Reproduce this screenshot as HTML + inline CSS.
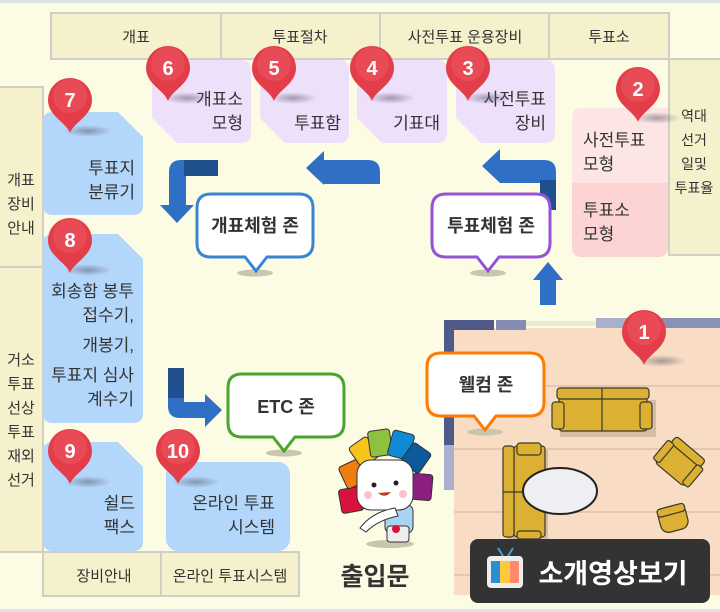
<!DOCTYPE html>
<html><head><meta charset="utf-8"><style>
html,body{margin:0;padding:0;background:#fcfbe4;}
svg{display:block}
text{font-family:"Liberation Sans","Noto Sans CJK KR",sans-serif;fill:#333}
</style></head><body>
<svg width="720" height="612" viewBox="0 0 720 612" xmlns="http://www.w3.org/2000/svg">
<defs>
<g id="pin"><path d="M0,33 C-4,22 -22,16 -22,0 A22,22 0 1 1 22,0 C22,16 4,22 0,33 Z" fill="#e23d48"/><circle cx="0" cy="-4" r="17" fill="#ef5a63" opacity="0.5"/></g>
<radialGradient id="sh"><stop offset="0" stop-color="#556" stop-opacity="0.5"/><stop offset="1" stop-color="#556" stop-opacity="0"/></radialGradient>
</defs>
<rect width="720" height="612" fill="#fcfbe4"/>
<rect x="0" y="0" width="720" height="3" fill="#dde2e6"/>
<rect x="0" y="609" width="720" height="3" fill="#dde2e6"/>
<!-- header -->
<g fill="#f5f1cd" stroke="#cfcfc8" stroke-width="2">
<rect x="51" y="13" width="170" height="46"/><rect x="221" y="13" width="159" height="46"/><rect x="380" y="13" width="169" height="46"/><rect x="549" y="13" width="120" height="46"/>
<rect x="669" y="59" width="52" height="196"/>
<rect x="-1" y="87" width="44" height="180"/><rect x="-1" y="267" width="44" height="285"/>
<rect x="43" y="552" width="118" height="44"/><rect x="161" y="552" width="138" height="44"/>
</g>
<g font-size="15" text-anchor="middle">
<text x="136" y="42">개표</text><text x="300" y="42">투표절차</text><text x="465" y="42">사전투표 운용장비</text><text x="609" y="42">투표소</text>
<text x="104" y="581">장비안내</text><text x="230" y="581">온라인 투표시스템</text>
</g>
<g font-size="14" text-anchor="middle">
<text x="694" y="121">역대</text><text x="694" y="145">선거</text><text x="694" y="169">일및</text><text x="694" y="193">투표율</text>
</g>
<g font-size="15" text-anchor="middle">
<text x="21" y="185">개표</text><text x="21" y="209">장비</text><text x="21" y="233">안내</text>
<text x="21" y="365">거소</text><text x="21" y="389">투표</text><text x="21" y="413">선상</text><text x="21" y="437">투표</text><text x="21" y="461">재외</text><text x="21" y="485">선거</text>
</g>
<!-- purple boxes -->
<g fill="#eee0fb">
<path d="M152,60 H241 Q251,60 251,70 V133 Q251,143 241,143 H177 L152,118 Z"/>
<path d="M260,60 H339 Q349,60 349,70 V133 Q349,143 339,143 H285 L260,118 Z"/>
<path d="M357,60 H437 Q447,60 447,70 V133 Q447,143 437,143 H382 L357,118 Z"/>
<path d="M456,60 H545 Q555,60 555,70 V133 Q555,143 545,143 H481 L456,118 Z"/>
</g>
<!-- pink -->
<path d="M582,108 H668 V183 H572 V118 Q572,108 582,108Z" fill="#fde5e5"/>
<path d="M572,183 H668 V247 Q668,257 658,257 H582 Q572,257 572,247Z" fill="#fdd4d4"/>
<!-- blue boxes -->
<g fill="#b3d7fb">
<path d="M53,112 H118 L143,137 V205 Q143,215 133,215 H53 Q43,215 43,205 V122 Q43,112 53,112Z"/>
<path d="M53,234 H118 L143,259 V413 Q143,423 133,423 H53 Q43,423 43,413 V244 Q43,234 53,234Z"/>
<path d="M53,442 H118 L143,467 V541 Q143,551 133,551 H53 Q43,551 43,541 V452 Q43,442 53,442Z"/>
<rect x="166" y="462" width="124" height="89" rx="12"/>
</g>
<g font-size="17" text-anchor="end">
<text x="243" y="105">개표소</text><text x="243" y="129">모형</text>
<text x="341" y="129">투표함</text>
<text x="440" y="129">기표대</text>
<text x="546" y="105">사전투표</text><text x="546" y="129">장비</text>
<text x="135" y="174">투표지</text><text x="135" y="198">분류기</text>
<text x="134" y="297">회송함 봉투</text><text x="134" y="321">접수기,</text><text x="134" y="351">개봉기,</text><text x="134" y="381">투표지 심사</text><text x="134" y="405">계수기</text>
<text x="135" y="509">쉴드</text><text x="135" y="533">팩스</text>
<text x="275" y="509">온라인 투표</text><text x="275" y="533">시스템</text>
</g>
<g font-size="17"><text x="583" y="146">사전투표</text><text x="583" y="170">모형</text><text x="583" y="216">투표소</text><text x="583" y="240">모형</text></g>
<!-- arrows -->
<g fill="#2f70c6">
<path d="M218,160 V176 H186 V205 H194 L177,223 L160,205 H169 V172 Q169,160 181,160Z"/>
<path d="M380,172 V184 H324 V185 L306,168 L324,151 V160 H368 Q380,160 380,172Z"/>
<path d="M556,172 V210 H540 V183 H500 L482,166 L500,149 V160 H544 Q556,160 556,172Z"/>
<path d="M540,305 V280 H533 L548,262 L563,280 H556 V305Z"/>
<path d="M168,368 H184 V402 H205 V394 L222,410 L205,427 V418 H180 Q168,418 168,406Z"/>
</g>
<g fill="#1f4f8c">
<rect x="184" y="160" width="34" height="16"/><rect x="540" y="180" width="16" height="30"/><rect x="168" y="368" width="16" height="30"/>
</g>
<!-- welcome zone -->
<rect x="454" y="328" width="266" height="267" fill="#f8dcc4"/>
<g stroke="#e8c6ad" stroke-width="2"><line x1="454" y1="386" x2="720" y2="386"/><line x1="454" y1="449" x2="720" y2="449"/><line x1="454" y1="512" x2="720" y2="512"/><line x1="454" y1="575" x2="720" y2="575"/></g>
<rect x="444" y="320" width="50" height="10" fill="#4f5a8b"/>
<rect x="444" y="320" width="10" height="125" fill="#4f5a8b"/>
<rect x="444" y="445" width="10" height="45" fill="#aab0cc"/>
<rect x="496" y="320" width="30" height="10" fill="#858cb3"/>
<rect x="526" y="321" width="70" height="5" fill="#ecebd0"/>
<rect x="596" y="318" width="124" height="10" fill="#8a91b6"/>
<rect x="596" y="318" width="30" height="10" fill="#aab0cc"/>
<!-- furniture -->
<rect x="560" y="400" width="96" height="37" fill="#d6bca6"/>
<rect x="508" y="450" width="40" height="92" fill="#d6bca6"/>
<g fill="#dbb033" stroke="#3a3a2a" stroke-width="1.2">
<rect x="559" y="395" width="88" height="36" rx="3"/>
<rect x="557" y="388" width="92" height="11" rx="3"/>
<line x1="602" y1="388" x2="602" y2="431"/>
<rect x="552" y="402" width="12" height="27" rx="3"/><rect x="640" y="402" width="12" height="27" rx="3"/>
<rect x="514" y="446" width="31" height="91" rx="3"/>
<rect x="503" y="446" width="11" height="91" rx="3"/>
<line x1="503" y1="492" x2="545" y2="492"/>
<rect x="517" y="443" width="24" height="12" rx="3"/>
<rect x="517" y="531" width="24" height="8" rx="3"/>
<ellipse cx="560" cy="491" rx="37" ry="23" fill="#eeeff2" stroke="#222" stroke-width="2"/>
<g transform="rotate(40 680 460)"><rect x="662" y="444" width="38" height="34" rx="4"/><rect x="662" y="444" width="38" height="9" rx="3"/><rect x="658" y="452" width="8" height="24" rx="2"/><rect x="696" y="452" width="8" height="24" rx="2"/></g>
<g transform="rotate(-15 673 518)"><rect x="659" y="506" width="28" height="25" rx="8"/><rect x="659" y="506" width="28" height="8" rx="3"/></g>
</g>
<!-- callouts -->
<g stroke-width="3" fill="#fff">
<ellipse cx="255" cy="273" rx="18" ry="3.5" fill="#c9c6ad" stroke="none"/>
<path d="M211,194 H299 Q313,194 313,208 V243 Q313,257 299,257 H267 L256,271 L245,257 H211 Q197,257 197,243 V208 Q197,194 211,194Z" stroke="#3a85d3"/>
<ellipse cx="488" cy="273" rx="18" ry="3.5" fill="#c9c6ad" stroke="none"/>
<path d="M446,194 H536 Q550,194 550,208 V243 Q550,257 536,257 H499 L488,271 L477,257 H446 Q432,257 432,243 V208 Q432,194 446,194Z" stroke="#9653d6"/>
<ellipse cx="284" cy="453" rx="18" ry="3.5" fill="#c9c6ad" stroke="none"/>
<path d="M242,374 H330 Q344,374 344,388 V423 Q344,437 330,437 H295 L284,451 L273,437 H242 Q228,437 228,423 V388 Q228,374 242,374Z" stroke="#4aa52c"/>
<ellipse cx="485" cy="432" rx="18" ry="3.5" fill="#c9c6ad" stroke="none"/>
<path d="M441,353 H530 Q544,353 544,367 V402 Q544,416 530,416 H496 L485,430 L474,416 H441 Q427,416 427,402 V367 Q427,353 441,353Z" stroke="#ff7a00"/>
</g>
<g font-size="18" font-weight="bold" text-anchor="middle">
<text x="255" y="232" fill="#222">개표체험 존</text><text x="491" y="232" fill="#222">투표체험 존</text>
<text x="286" y="413" fill="#222">ETC 존</text><text x="486" y="391" fill="#222">웰컴 존</text>
</g>
<!-- mascot -->
<ellipse cx="390" cy="544" rx="24" ry="4" fill="#c9c6ad"/>
<g stroke="#333" stroke-width="1">
<rect x="340" y="488" width="22" height="24" rx="3" fill="#d9113f" transform="rotate(-10 351 500)"/>
<rect x="342" y="462" width="22" height="24" rx="3" fill="#ef7d0f" transform="rotate(-25 353 474)"/>
<rect x="353" y="440" width="22" height="24" rx="3" fill="#f7c41a" transform="rotate(-35 364 452)"/>
<rect x="369" y="430" width="22" height="26" rx="3" fill="#8fc140" transform="rotate(-8 380 443)"/>
<rect x="390" y="432" width="22" height="26" rx="3" fill="#0f8bd6" transform="rotate(15 401 445)"/>
<rect x="405" y="446" width="22" height="24" rx="3" fill="#0c5a9c" transform="rotate(35 416 458)"/>
<rect x="412" y="474" width="20" height="26" rx="3" fill="#8b1f7f" transform="rotate(5 422 487)"/>
<rect x="385" y="505" width="28" height="28" rx="6" fill="#a8d4f2"/>
<rect x="387" y="526" width="22" height="16" rx="3" fill="#eee"/>
<rect x="357" y="460" width="56" height="50" rx="14" fill="#fff"/>
<path d="M360,528 Q372,512 395,508 L398,516 Q378,520 366,532 Z" fill="#fff"/>
</g>
<circle cx="374" cy="485" r="2.5" fill="#222"/><circle cx="396" cy="483" r="2.5" fill="#222"/>
<circle cx="368" cy="495" r="4" fill="#f7c3c8"/><circle cx="403" cy="494" r="4" fill="#f7c3c8"/>
<path d="M378,493 Q385,499 391,492 Z" fill="#c03b1c"/>
<circle cx="396" cy="529" r="4" fill="#d9113f"/>
<text x="375" y="585" font-size="25" font-weight="bold" text-anchor="middle" fill="#3a3a3a">출입문</text>
<!-- video button -->
<rect x="470" y="539" width="240" height="64" rx="8" fill="#333"/>
<line x1="498" y1="548" x2="503" y2="556" stroke="#3aa6dc" stroke-width="2"/><line x1="513" y1="548" x2="508" y2="556" stroke="#3aa6dc" stroke-width="2"/>
<rect x="487" y="556" width="36" height="32" rx="4" fill="#eee"/>
<rect x="491" y="561" width="9" height="22" fill="#2b8ed1"/><rect x="500" y="561" width="10" height="22" fill="#ffc93c"/><rect x="510" y="561" width="9" height="22" fill="#ff8a6c"/>
<text x="613" y="583" font-size="27" font-weight="bold" text-anchor="middle" style="fill:#fff">소개영상보기</text>
<!-- pins -->
<g>
<ellipse cx="187" cy="98" rx="24" ry="6" fill="url(#sh)"/><ellipse cx="293" cy="98" rx="24" ry="6" fill="url(#sh)"/><ellipse cx="391" cy="98" rx="24" ry="6" fill="url(#sh)"/><ellipse cx="487" cy="98" rx="24" ry="6" fill="url(#sh)"/>
<ellipse cx="657" cy="118" rx="24" ry="6" fill="url(#sh)"/><ellipse cx="88" cy="131" rx="24" ry="6" fill="url(#sh)"/><ellipse cx="88" cy="270" rx="24" ry="6" fill="url(#sh)"/><ellipse cx="88" cy="482" rx="24" ry="6" fill="url(#sh)"/><ellipse cx="196" cy="482" rx="24" ry="6" fill="url(#sh)"/><ellipse cx="662" cy="361" rx="24" ry="6" fill="url(#sh)"/>
<use href="#pin" x="168" y="68"/><use href="#pin" x="274" y="68"/><use href="#pin" x="372" y="68"/><use href="#pin" x="468" y="68"/>
<use href="#pin" x="638" y="89"/><use href="#pin" x="70" y="100"/><use href="#pin" x="70" y="240"/><use href="#pin" x="70" y="451"/><use href="#pin" x="178" y="451"/><use href="#pin" x="644" y="332"/>
</g>
<g font-size="20" font-weight="bold" text-anchor="middle">
<text x="168" y="75" style="fill:#fff">6</text><text x="274" y="75" style="fill:#fff">5</text><text x="372" y="75" style="fill:#fff">4</text><text x="468" y="75" style="fill:#fff">3</text>
<text x="638" y="96" style="fill:#fff">2</text><text x="70" y="107" style="fill:#fff">7</text><text x="70" y="247" style="fill:#fff">8</text><text x="70" y="458" style="fill:#fff">9</text><text x="178" y="458" style="fill:#fff">10</text><text x="644" y="339" style="fill:#fff">1</text>
</g>
</svg>
</body></html>
